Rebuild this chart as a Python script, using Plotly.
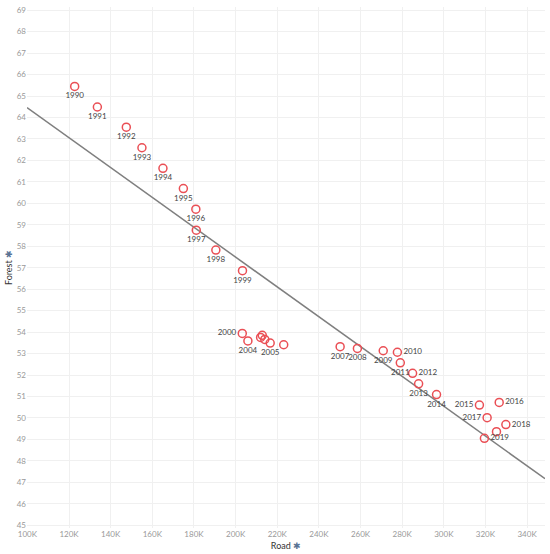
import numpy as np
import plotly.graph_objects as go

# data (Road in units, Forest in %)
years = list(range(1990, 2021))
road = [122700, 133600, 147500, 155000, 165100, 174900, 180900, 181100, 190500, 203300,
        203200, 212800, 212000, 214000, 205900, 216600, 223100, 250200, 258500, 270900,
        277700, 279100, 285000, 287900, 296500, 317100, 326600, 320800, 329800, 319500,
        325300]
forest = [65.45, 64.49, 63.55, 62.59, 61.63, 60.69, 59.73, 58.75, 57.82, 56.86,
          53.94, 53.85, 53.75, 53.66, 53.59, 53.49, 53.41, 53.32, 53.24, 53.13,
          53.06, 52.57, 52.08, 51.59, 51.09, 50.60, 50.72, 50.01, 49.69, 49.05,
          49.36]

x_tickvals = list(range(100000, 360000, 20000))
x_ticktext = [f"{v // 1000}K" for v in x_tickvals]
y_tickvals = list(range(45, 70))

# labels Tableau hid because of overlap
hidden = {2001, 2002, 2003, 2006, 2020}
right = {2010, 2012, 2016, 2018, 2019}
left = {2000, 2015, 2017}

labels = ["" if y in hidden else str(y) for y in years]
positions = []
for y in years:
    if y in right:
        positions.append("middle right")
    elif y in left:
        positions.append("middle left")
    else:
        positions.append("bottom center")

x_range = [99800, 348600]
y_range = [44.87, 69.15]

# linear trend line
slope, icept = np.polyfit(road, forest, 1)
trend_x = np.array(x_range)
trend_y = slope * trend_x + icept

fig = go.Figure()

fig.add_trace(go.Scatter(
    x=trend_x, y=trend_y, mode="lines",
    line=dict(color="#7f7f7f", width=1.5),
    hoverinfo="skip", showlegend=False))

fig.add_trace(go.Scatter(
    x=road, y=forest, mode="markers+text",
    text=labels, textposition=positions,
    textfont=dict(family="Lato", size=8, color="#444444"),
    marker=dict(symbol="circle-open", size=8, color="#ea4f55",
                line=dict(width=1.5, color="#ea4f55")),
    showlegend=False))

fig.update_layout(
    width=550, height=554,
    margin=dict(l=27, r=5, t=5, b=26),
    paper_bgcolor="white", plot_bgcolor="white",
    font=dict(family="Lato", size=8, color="#999999"),
    xaxis=dict(range=x_range, tickvals=x_tickvals, ticktext=x_ticktext,
               showgrid=True, gridcolor="#f0f0f0", gridwidth=1,
               zeroline=False, showline=False, ticks="",
               tickfont=dict(size=8, color="#999999"),
               title=dict(text="Road <span style='color:#5a7394'>✱</span>",
                          font=dict(size=9, color="#333333"), standoff=4)),
    yaxis=dict(range=y_range, tickvals=y_tickvals,
               showgrid=True, gridcolor="#f0f0f0", gridwidth=1,
               zeroline=False, showline=False, ticks="",
               tickfont=dict(size=8, color="#999999"),
               title=dict(text="Forest <span style='color:#5a7394'>✱</span>",
                          font=dict(size=9, color="#333333"), standoff=2)),
)

# page has an 8px body margin by default; drop it so the chart sits at 0,0
fig.write_html("out.html", config={"displayModeBar": False},
               post_script="document.body.style.margin='0';")
